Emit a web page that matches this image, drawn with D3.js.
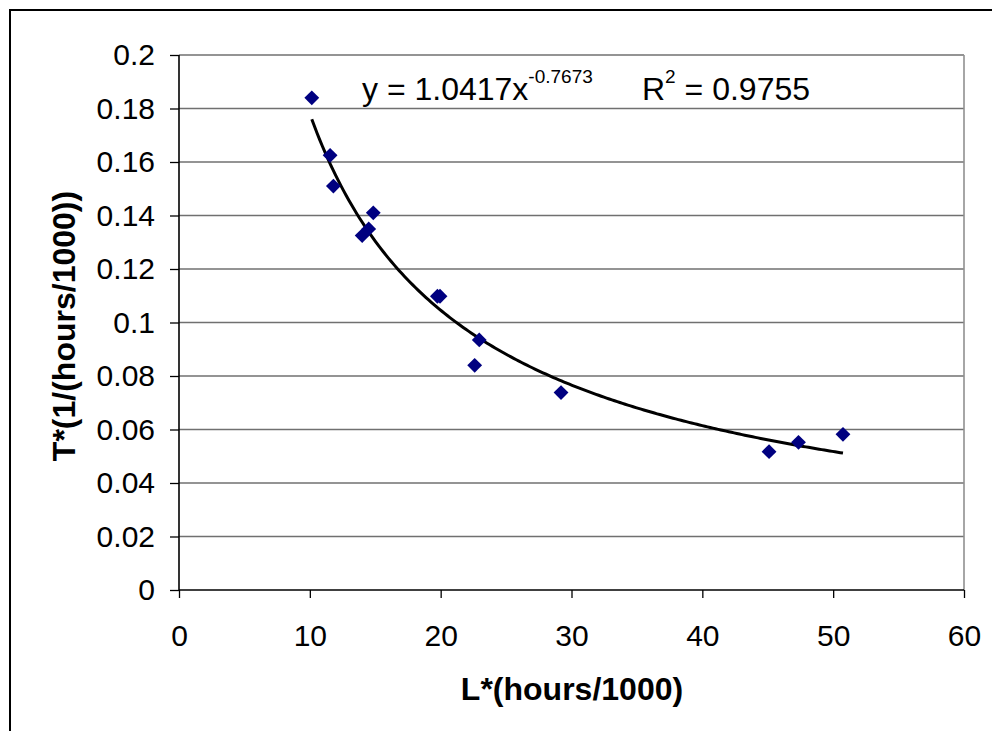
<!DOCTYPE html>
<html><head><meta charset="utf-8">
<script src="https://cdn.jsdelivr.net/npm/d3@7"></script>
<style>
html,body{margin:0;padding:0;background:#fff;}
svg{display:block;font-family:Arial,"Liberation Sans",sans-serif;}
</style></head>
<body>
<svg id="chart" width="992" height="731"></svg>
<script>
// Data
const lValues = [10.15, 11.55, 11.8, 14.0, 14.5, 14.85, 19.75, 19.95, 22.6, 22.95, 29.2, 45.1, 47.35, 50.75];
const tValues = [0.184, 0.1625, 0.151, 0.1325, 0.135, 0.141, 0.1098, 0.1098, 0.084, 0.0935, 0.0738, 0.0517, 0.0552, 0.0582];
const xTicks = [0, 10, 20, 30, 40, 50, 60];
const yTicks = [0, 0.02, 0.04, 0.06, 0.08, 0.1, 0.12, 0.14, 0.16, 0.18, 0.2];
const fitCoef = 1.0417, fitExp = -0.7673, fitR2 = "0.9755";
const xTitle = "L*(hours/1000)", yTitle = "T*(1/(hours/1000))";

(function () {
const svg = d3.select("#chart");
const pLeft = 179, pRight = 964, pTop = 55, pBottom = 590;
const x = d3.scaleLinear().domain([0, 60]).range([pLeft, pRight]);
const y = d3.scaleLinear().domain([0, 0.2]).range([pBottom, pTop]);

// outer frame
svg.append("rect").attr("x", 10).attr("y", 10).attr("width", 1000).attr("height", 800)
  .attr("fill", "none").attr("stroke", "#000").attr("stroke-width", 2);

// gridlines
svg.append("g").selectAll("line").data(yTicks.filter(d => d > 0)).join("line")
  .attr("x1", pLeft).attr("x2", pRight).attr("y1", d => y(d)).attr("y2", d => y(d))
  .attr("stroke", "#707070").attr("stroke-width", 1.6);
// right border
svg.append("line").attr("x1", pRight).attr("x2", pRight).attr("y1", pTop).attr("y2", pBottom)
  .attr("stroke", "#909090").attr("stroke-width", 1.6);

// axes
const fmtY = d => d === 0 ? "0" : String(+d.toFixed(2));
const yAxis = d3.axisLeft(y).tickValues(yTicks).tickFormat(fmtY).tickSize(8).tickPadding(16);
const gy = svg.append("g").attr("transform", `translate(${pLeft},0)`).call(yAxis);
const xAxis = d3.axisBottom(x).tickValues(xTicks).tickFormat(d3.format("d")).tickSize(8).tickPadding(16);
const gx = svg.append("g").attr("transform", `translate(0,${pBottom})`).call(xAxis);
[gx, gy].forEach(g => {
  g.select(".domain").attr("stroke", "#000").attr("stroke-width", 1.6);
  g.selectAll(".tick line").attr("stroke", "#000").attr("stroke-width", 1.3);
  g.selectAll(".tick text").attr("fill", "#000").style("font-size", "30px")
    .style("font-family", "Arial, 'Liberation Sans', sans-serif");
});
gy.select(".domain").attr("d", `M0,${pBottom}V${pTop}`);
gx.select(".domain").attr("d", `M${pLeft},0H${pRight}`);
gy.selectAll(".tick line").attr("x2", -9);
gx.selectAll(".tick text").attr("y", 35).attr("dy", "0.71em");

// trendline (power fit from the displayed coefficients)
const lMin = d3.min(lValues), lMax = d3.max(lValues);
const curvePts = d3.range(0, 201).map(i => {
  const lx = lMin + (lMax - lMin) * i / 200;
  return [lx, fitCoef * Math.pow(lx, fitExp)];
});
svg.append("path").datum(curvePts)
  .attr("d", d3.line().x(d => x(d[0])).y(d => y(d[1])))
  .attr("fill", "none").attr("stroke", "#000").attr("stroke-width", 3);

// points
const diamond = d3.symbol().type(d3.symbolSquare).size(110);
svg.append("g").selectAll("path").data(lValues.map((v, i) => [v, tValues[i]])).join("path")
  .attr("d", diamond)
  .attr("transform", d => `translate(${x(d[0])},${y(d[1])}) rotate(45)`)
  .attr("fill", "#000080");

// equation label
const eq = svg.append("text").attr("x", 362).attr("y", 100)
  .style("font-size", "32px").attr("fill", "#000");
eq.append("tspan").text(`y = ${fitCoef}x`);
eq.append("tspan").attr("dy", -17).style("font-size", "19px").text(fitExp.toString());
const r2 = svg.append("text").attr("x", 642).attr("y", 100)
  .style("font-size", "32px").attr("fill", "#000");
r2.append("tspan").text("R");
r2.append("tspan").attr("dy", -17).style("font-size", "19px").text("2");
r2.append("tspan").attr("dy", 17).text(` = ${fitR2}`);

// axis titles
svg.append("text").attr("x", 572).attr("y", 700).attr("text-anchor", "middle")
  .style("font-size", "32px").style("font-weight", "bold").text(xTitle);
svg.append("text").attr("transform", "translate(75,326) rotate(-90)").attr("text-anchor", "middle")
  .style("font-size", "32px").style("font-weight", "bold").text(yTitle);
})();
</script>
</body></html>
